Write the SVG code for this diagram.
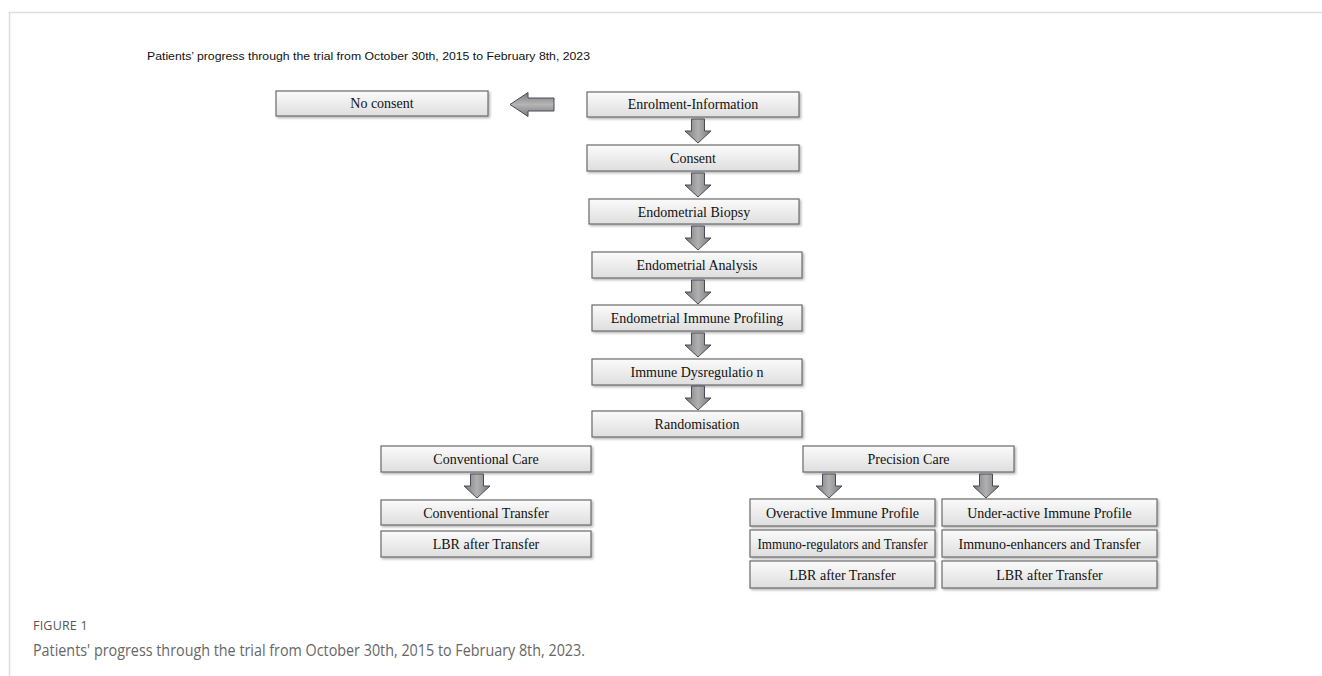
<svg xmlns="http://www.w3.org/2000/svg" width="1322" height="676" viewBox="0 0 1322 676">
<style>
.box rect{fill:url(#bg);stroke:#6b6b6b;stroke-width:1.2;filter:url(#sh)}
.box text{font-family:"Liberation Serif",serif;font-size:14px;fill:#111;text-anchor:middle}
.arr{fill:url(#ag);stroke:#4a4a5a;stroke-width:1}
</style>
<defs>
<linearGradient id="bg" x1="0" y1="0" x2="0" y2="1"><stop offset="0" stop-color="#fbfbfb"/><stop offset="1" stop-color="#dedede"/></linearGradient>
<linearGradient id="ag" x1="0" y1="0" x2="1" y2="0"><stop offset="0" stop-color="#7a7a7a"/><stop offset="0.5" stop-color="#b0b0b0"/><stop offset="1" stop-color="#7a7a7a"/></linearGradient>
<linearGradient id="agh" x1="0" y1="0" x2="0" y2="1"><stop offset="0" stop-color="#7a7a7a"/><stop offset="0.5" stop-color="#b5b5b5"/><stop offset="1" stop-color="#7a7a7a"/></linearGradient>
<filter id="sh" x="-5%" y="-20%" width="110%" height="150%"><feDropShadow dx="1.5" dy="1.5" stdDeviation="1" flood-color="#000" flood-opacity="0.3"/></filter>
<path id="da" d="M-6.5,0 H6.5 V12 H13 L0,24 L-13,12 H-6.5 Z"/>
</defs>
<rect width="1322" height="676" fill="#fff"/>
<path d="M9.5,676 V12.5 H1322" fill="none" stroke="#dcdcdc" stroke-width="1.5"/>
<text x="147" y="60" font-family="Liberation Sans,sans-serif" font-size="10.5" fill="#111" textLength="443" lengthAdjust="spacingAndGlyphs">Patients’ progress through the trial from October 30th, 2015 to February 8th, 2023</text>

<g id="n_noconsent" class="box"><rect x="276" y="91" width="212" height="25"/><text x="382" y="108">No consent</text></g>
<g id="n_enrol" class="box"><rect x="587" y="92" width="212" height="25"/><text x="693" y="109">Enrolment-Information</text></g>
<g id="n_consent" class="box"><rect x="587" y="145" width="212" height="26"/><text x="693" y="163">Consent</text></g>
<g id="n_biopsy" class="box"><rect x="589" y="199" width="210" height="25"/><text x="694" y="216.5">Endometrial Biopsy</text></g>
<g id="n_analysis" class="box"><rect x="592" y="252" width="210" height="26"/><text x="697" y="270">Endometrial Analysis</text></g>
<g id="n_profiling" class="box"><rect x="592" y="305" width="210" height="26"/><text x="697" y="323">Endometrial Immune Profiling</text></g>
<g id="n_dysreg" class="box"><rect x="592" y="359" width="210" height="26"/><text x="697" y="377">Immune Dysregulatio n</text></g>
<g id="n_random" class="box"><rect x="592" y="411" width="210" height="26"/><text x="697" y="429">Randomisation</text></g>
<g id="n_convcare" class="box"><rect x="381" y="446" width="210" height="26"/><text x="486" y="464">Conventional Care</text></g>
<g id="n_convtransfer" class="box"><rect x="381" y="500" width="210" height="25"/><text x="486" y="517.5">Conventional Transfer</text></g>
<g id="n_convlbr" class="box"><rect x="381" y="531" width="210" height="26"/><text x="486" y="549">LBR after Transfer</text></g>
<g id="n_preccare" class="box"><rect x="803" y="446" width="211" height="26"/><text x="908.5" y="464">Precision Care</text></g>
<g id="n_over" class="box"><rect x="750" y="499" width="185" height="27"/><text x="842.5" y="517.5">Overactive Immune Profile</text></g>
<g id="n_under" class="box"><rect x="942" y="499" width="215" height="27"/><text x="1049.5" y="517.5">Under-active Immune Profile</text></g>
<g id="n_reg" class="box"><rect x="750" y="530" width="185" height="27"/><text x="842.5" y="548.5" textLength="170" lengthAdjust="spacingAndGlyphs">Immuno-regulators and Transfer</text></g>
<g id="n_enh" class="box"><rect x="942" y="530" width="215" height="27"/><text x="1049.5" y="548.5">Immuno-enhancers and Transfer</text></g>
<g id="n_overlbr" class="box"><rect x="750" y="561" width="185" height="27"/><text x="842.5" y="579.5">LBR after Transfer</text></g>
<g id="n_underlbr" class="box"><rect x="942" y="561" width="215" height="27"/><text x="1049.5" y="579.5">LBR after Transfer</text></g>

<g id="connectors">
<path class="arr" style="fill:url(#agh)" d="M554,98 V111 H528 V116.5 L510,104.5 L528,92.5 V98 Z"/>
<use href="#da" class="arr" x="698" y="119"/>
<use href="#da" class="arr" x="698" y="173"/>
<use href="#da" class="arr" x="698" y="226"/>
<use href="#da" class="arr" x="698" y="280"/>
<use href="#da" class="arr" x="698" y="333"/>
<use href="#da" class="arr" x="698" y="386"/>
<use href="#da" class="arr" x="477" y="474"/>
<use href="#da" class="arr" x="829" y="474"/>
<use href="#da" class="arr" x="986" y="474"/>
</g>

<text x="33" y="630" font-family="Open Sans,sans-serif" font-size="12.5" fill="#555" letter-spacing="0.2">FIGURE 1</text>
<text x="33" y="656" font-family="Open Sans,sans-serif" font-size="15.5" fill="#666" textLength="552" lengthAdjust="spacingAndGlyphs">Patients' progress through the trial from October 30th, 2015 to February 8th, 2023.</text>
</svg>
